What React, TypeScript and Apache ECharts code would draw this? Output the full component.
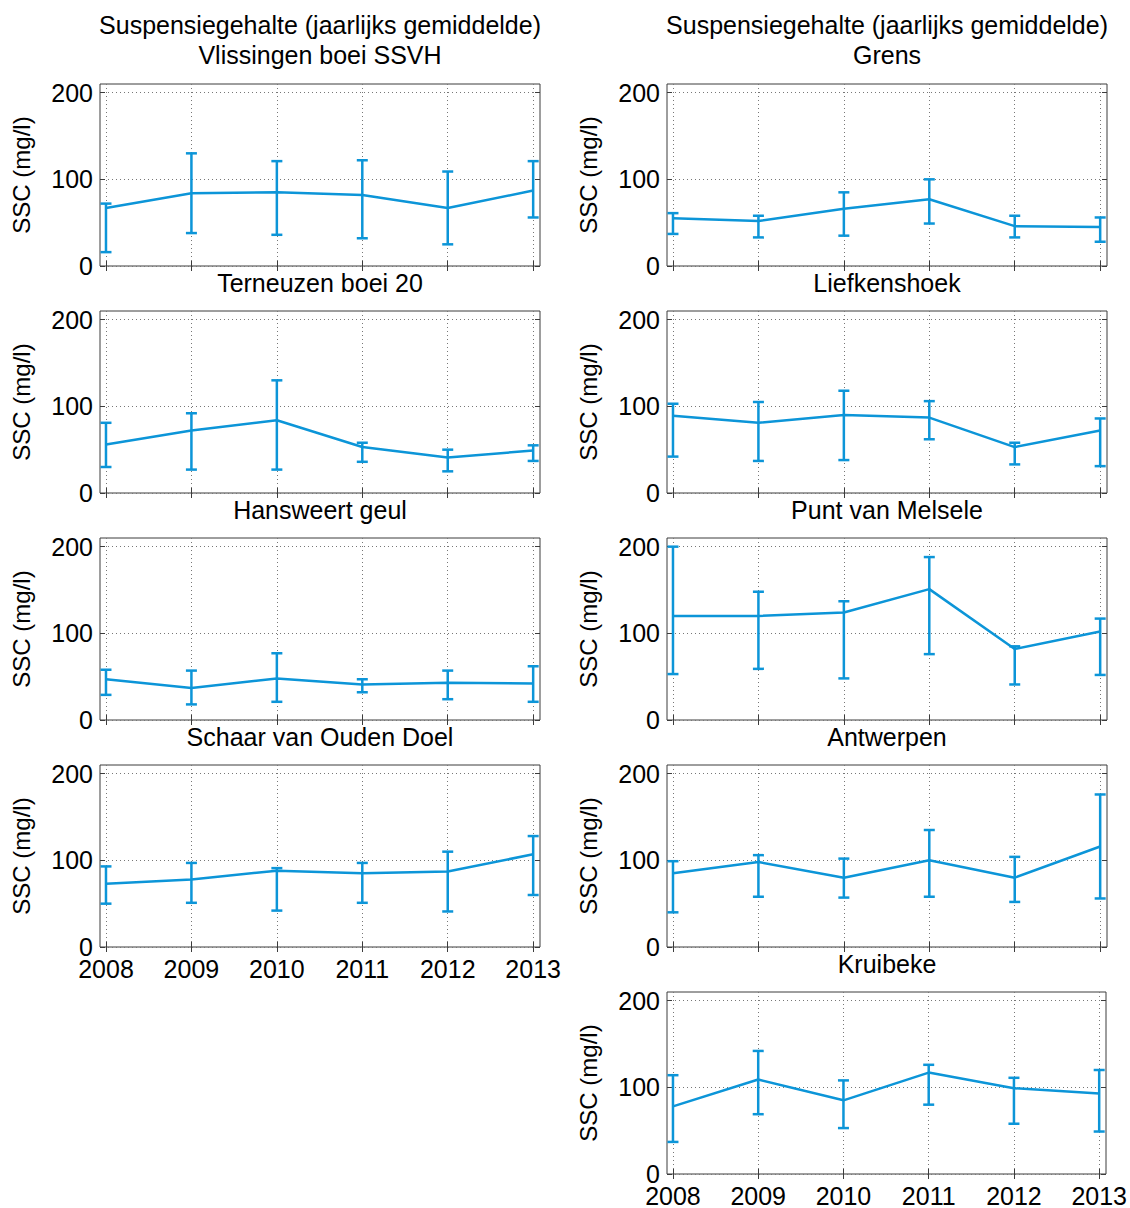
import React, { useEffect, useRef } from "react";
import * as echarts from "echarts";

const years = [2008, 2009, 2010, 2011, 2012, 2013];
const yTicks = [0, 100, 200];

const vlissingenMean = [67, 84, 85, 82, 67, 87];
const vlissingenLow = [16, 38, 36, 32, 25, 56];
const vlissingenHigh = [72, 130, 121, 122, 109, 121];

const grensMean = [55, 52, 66, 77, 46, 45];
const grensLow = [37, 33, 35, 49, 33, 28];
const grensHigh = [61, 58, 85, 100, 58, 56];

const terneuzenMean = [56, 72, 84, 53, 41, 49];
const terneuzenLow = [30, 27, 27, 36, 25, 37];
const terneuzenHigh = [81, 92, 130, 58, 50, 55];

const liefkenshoekMean = [89, 81, 90, 87, 53, 72];
const liefkenshoekLow = [42, 37, 38, 62, 33, 31];
const liefkenshoekHigh = [103, 105, 118, 106, 58, 86];

const hansweertMean = [47, 37, 48, 41, 43, 42];
const hansweertLow = [29, 18, 21, 32, 24, 21];
const hansweertHigh = [58, 57, 77, 47, 57, 62];

const melseleMean = [120, 120, 124, 151, 82, 102];
const melseleLow = [53, 59, 48, 76, 41, 52];
const melseleHigh = [200, 148, 137, 188, 85, 117];

const schaarMean = [73, 78, 88, 85, 87, 107];
const schaarLow = [50, 51, 42, 51, 41, 60];
const schaarHigh = [93, 97, 91, 97, 110, 128];

const antwerpenMean = [85, 98, 80, 100, 80, 116];
const antwerpenLow = [40, 58, 57, 58, 52, 56];
const antwerpenHigh = [99, 106, 102, 135, 104, 176];

const kruibekeMean = [78, 109, 85, 117, 99, 93];
const kruibekeLow = [37, 69, 53, 80, 58, 49];
const kruibekeHigh = [114, 142, 108, 126, 111, 120];

const mainTitle = "Suspensiegehalte (jaarlijks gemiddelde)";
const yName = "SSC (mg/l)";

const panels = [
  { name: "Vlissingen boei SSVH", mean: vlissingenMean, low: vlissingenLow, high: vlissingenHigh, col: 0, row: 0, xl: false },
  { name: "Terneuzen boei 20", mean: terneuzenMean, low: terneuzenLow, high: terneuzenHigh, col: 0, row: 1, xl: false },
  { name: "Hansweert geul", mean: hansweertMean, low: hansweertLow, high: hansweertHigh, col: 0, row: 2, xl: false },
  { name: "Schaar van Ouden Doel", mean: schaarMean, low: schaarLow, high: schaarHigh, col: 0, row: 3, xl: true },
  { name: "Grens", mean: grensMean, low: grensLow, high: grensHigh, col: 1, row: 0, xl: false },
  { name: "Liefkenshoek", mean: liefkenshoekMean, low: liefkenshoekLow, high: liefkenshoekHigh, col: 1, row: 1, xl: false },
  { name: "Punt van Melsele", mean: melseleMean, low: melseleLow, high: melseleHigh, col: 1, row: 2, xl: false },
  { name: "Antwerpen", mean: antwerpenMean, low: antwerpenLow, high: antwerpenHigh, col: 1, row: 3, xl: false },
  { name: "Kruibeke", mean: kruibekeMean, low: kruibekeLow, high: kruibekeHigh, col: 1, row: 4, xl: true },
];

const FONT = "'Liberation Sans', Arial, Helvetica, sans-serif";
const BLUE = "#0c95d8";
const BORDER = "#3c3c3c";
const colLeft = [100, 667];
const plotW = 440;
const rowTop = [84, 311, 538, 765, 992];
const plotH = 182;

export default function App() {
  const ref = useRef<HTMLDivElement>(null);
  useEffect(() => {
    if (!ref.current) return;
    const chart = echarts.init(ref.current, null, { renderer: "svg" });
    const grids: any[] = [];
    const xAxes: any[] = [];
    const yAxes: any[] = [];
    const series: any[] = [];
    const graphics: any[] = [];

    panels.forEach((p, i) => {
      const left = colLeft[p.col];
      const top = rowTop[p.row];
      grids.push({
        left,
        top,
        width: plotW,
        height: plotH,
        show: true,
        borderColor: BORDER,
        borderWidth: 1,
        backgroundColor: "#fff",
        containLabel: false,
      });
      const tickStyle = { lineStyle: { color: BORDER, width: 1 } };
      xAxes.push({
        type: "value",
        gridIndex: i,
        position: "bottom",
        min: 2007.93,
        max: 2013.08,
        axisLine: { show: false },
        axisTick: { show: true, inside: true, length: 5, customValues: years, ...tickStyle },
        axisLabel: {
          show: p.xl,
          customValues: years,
          fontFamily: FONT,
          fontSize: 25,
          color: "#000",
          margin: 9,
          formatter: (v: number) => String(v),
        },
        splitLine: { show: true, lineStyle: { type: [1, 3], color: "#777", width: 1 } },
      });
      xAxes.push({
        type: "value",
        gridIndex: i,
        position: "top",
        min: 2007.93,
        max: 2013.08,
        axisLine: { show: false },
        axisTick: { show: true, inside: true, length: 5, customValues: years, ...tickStyle },
        axisLabel: { show: false },
        splitLine: { show: false },
      });
      yAxes.push({
        type: "value",
        gridIndex: i,
        position: "left",
        min: 0,
        max: 210,
        name: yName,
        nameLocation: "middle",
        nameRotate: 90,
        nameGap: 67,
        nameTextStyle: { fontFamily: FONT, fontSize: 24, color: "#000" },
        axisLine: { show: false },
        axisTick: { show: true, inside: true, length: 5, customValues: yTicks, ...tickStyle },
        axisLabel: {
          customValues: yTicks,
          fontFamily: FONT,
          fontSize: 25,
          color: "#000",
          margin: 7,
        },
        splitLine: { show: true, lineStyle: { type: [1, 3], color: "#777", width: 1 } },
      });
      yAxes.push({
        type: "value",
        gridIndex: i,
        position: "right",
        min: 0,
        max: 210,
        axisLine: { show: false },
        axisTick: { show: true, inside: true, length: 5, customValues: yTicks, ...tickStyle },
        axisLabel: { show: false },
        splitLine: { show: false },
      });

      series.push({
        type: "line",
        xAxisIndex: 2 * i,
        yAxisIndex: 2 * i,
        data: years.map((y, k) => [y, p.mean[k]]),
        symbol: "none",
        lineStyle: { color: BLUE, width: 2.5 },
        z: 3,
      });
      series.push({
        type: "custom",
        xAxisIndex: 2 * i,
        yAxisIndex: 2 * i,
        data: years.map((y, k) => [y, p.low[k], p.high[k]]),
        renderItem: (params: any, api: any) => {
          const x = api.value(0);
          const lo = api.coord([x, api.value(1)]);
          const hi = api.coord([x, api.value(2)]);
          const hw = 5.5;
          const st = { stroke: BLUE, lineWidth: 2.5 };
          return {
            type: "group",
            children: [
              { type: "line", shape: { x1: lo[0], y1: lo[1], x2: hi[0], y2: hi[1] }, style: st },
              { type: "line", shape: { x1: lo[0] - hw, y1: lo[1], x2: lo[0] + hw, y2: lo[1] }, style: st },
              { type: "line", shape: { x1: hi[0] - hw, y1: hi[1], x2: hi[0] + hw, y2: hi[1] }, style: st },
            ],
          };
        },
        z: 4,
      });

      const cx = left + plotW / 2;
      const tf = `25px ${FONT}`;
      if (p.row === 0) {
        graphics.push({
          type: "text",
          x: cx,
          y: 25,
          style: { text: mainTitle, font: tf, fill: "#000", textAlign: "center", textVerticalAlign: "middle" },
        });
        graphics.push({
          type: "text",
          x: cx,
          y: 55,
          style: { text: p.name, font: tf, fill: "#000", textAlign: "center", textVerticalAlign: "middle" },
        });
      } else {
        graphics.push({
          type: "text",
          x: cx,
          y: top - 28,
          style: { text: p.name, font: tf, fill: "#000", textAlign: "center", textVerticalAlign: "middle" },
        });
      }
    });

    chart.setOption({
      animation: false,
      backgroundColor: "#fff",
      grid: grids,
      xAxis: xAxes,
      yAxis: yAxes,
      series,
      graphic: graphics,
    });
    return () => chart.dispose();
  }, []);
  return (
    <div
      ref={ref}
      style={{ position: "absolute", left: 0, top: 0, width: 1130, height: 1208 }}
    />
  );
}
